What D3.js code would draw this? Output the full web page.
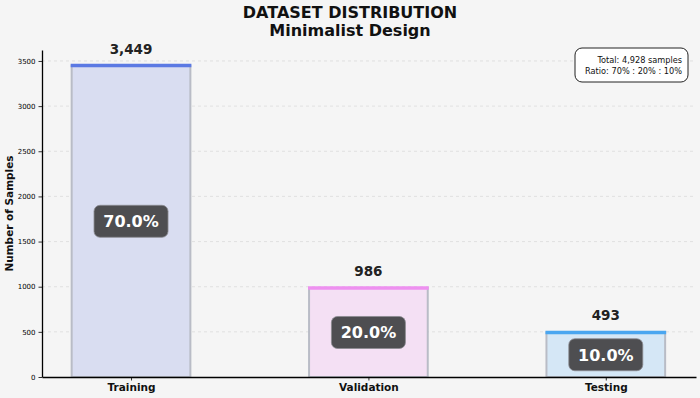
<!DOCTYPE html>
<html>
<head>
<meta charset="utf-8">
<script src="https://cdn.jsdelivr.net/npm/d3@7"></script>
<style>
  html, body { margin: 0; padding: 0; background: #f5f5f5; }
  svg { display: block; font-family: "DejaVu Sans", sans-serif; }
</style>
</head>
<body>
<div id="chart"></div>
<script>
const categories = ["Training", "Validation", "Testing"];
const counts = [3449, 986, 493];
const percents = [70.0, 20.0, 10.0];
const yTicks = [0, 500, 1000, 1500, 2000, 2500, 3000, 3500];
const fills = ["#d9ddf1", "#f4e0f4", "#d5e7f6"];
const caps = ["#5b79e3", "#ee90f0", "#4aa6f0"];

const width = 700, height = 398;
const margin = { left: 42, right: 4, top: 50, bottom: 21 };

const svg = d3.select("#chart").append("svg")
  .attr("width", width)
  .attr("height", height);

svg.append("rect").attr("width", width).attr("height", height).attr("fill", "#f5f5f5");

const x = d3.scaleLinear()
  .domain([-0.375, 2.38])
  .range([margin.left, width - margin.right]);

const y = d3.scaleLinear()
  .domain([0, d3.max(counts) * 1.05])
  .range([height - margin.bottom, margin.top]);

const barW = x(0.5) - x(0);

// grid
svg.append("g")
  .selectAll("line")
  .data(yTicks.slice(1))
  .enter()
  .append("line")
  .attr("x1", margin.left)
  .attr("x2", width - margin.right)
  .attr("y1", d => y(d))
  .attr("y2", d => y(d))
  .attr("stroke", "#dcdcdc")
  .attr("stroke-width", 0.8)
  .attr("stroke-dasharray", "3,3");

// bars
const bars = svg.append("g").selectAll("g")
  .data(categories)
  .enter()
  .append("g");

bars.append("rect")
  .attr("x", (d, i) => x(i) - barW / 2)
  .attr("y", (d, i) => y(counts[i]))
  .attr("width", barW)
  .attr("height", (d, i) => y(0) - y(counts[i]))
  .attr("fill", (d, i) => fills[i])
  .attr("stroke", "#b9bcc6")
  .attr("stroke-width", 2);

bars.append("line")
  .attr("x1", (d, i) => x(i) - barW / 2 - 1)
  .attr("x2", (d, i) => x(i) + barW / 2 + 1)
  .attr("y1", (d, i) => y(counts[i]))
  .attr("y2", (d, i) => y(counts[i]))
  .attr("stroke", (d, i) => caps[i])
  .attr("stroke-width", 3.5);

// value labels
bars.append("text")
  .attr("x", (d, i) => x(i))
  .attr("y", (d, i) => y(counts[i]) - 12)
  .attr("text-anchor", "middle")
  .style("font-size", "13.5px")
  .style("font-weight", "bold")
  .attr("fill", "#222")
  .text((d, i) => d3.format(",")(counts[i]));

// percentage badges
const badge = bars.append("g")
  .attr("transform", (d, i) => "translate(" + x(i) + "," + y(counts[i] / 2) + ")");

badge.append("rect")
  .attr("x", -37)
  .attr("y", -16)
  .attr("width", 74)
  .attr("height", 32)
  .attr("rx", 6)
  .attr("fill", "#4e4e51")
  .attr("stroke", "#8a8a90")
  .attr("stroke-width", 0.8);

badge.append("text")
  .attr("text-anchor", "middle")
  .attr("dy", "0.36em")
  .attr("fill", "#fff")
  .style("font-size", "16px")
  .style("font-weight", "bold")
  .text((d, i) => percents[i].toFixed(1) + "%");

// y axis
const yAxis = svg.append("g")
  .attr("transform", "translate(" + margin.left + ",0)")
  .call(d3.axisLeft(y).tickValues(yTicks).tickFormat(d3.format("d"))
    .tickSizeInner(3.5).tickSizeOuter(0).tickPadding(3));
yAxis.select(".domain").attr("stroke", "#000").attr("stroke-width", 1.3);
yAxis.selectAll(".tick line").attr("stroke", "#000").attr("stroke-width", 0.8);
yAxis.selectAll("text").style("font-size", "7px").attr("fill", "#000")
  .style("font-family", "DejaVu Sans");

// x axis
const xAxis = svg.append("g")
  .attr("transform", "translate(0," + y(0) + ")")
  .call(d3.axisBottom(x).tickValues([0, 1, 2]).tickSizeInner(3.5).tickSizeOuter(0).tickPadding(3)
    .tickFormat(i => categories[i]));
xAxis.select(".domain").attr("stroke", "#000").attr("stroke-width", 1.3);
xAxis.selectAll(".tick line").attr("stroke", "#000").attr("stroke-width", 0.8);
xAxis.selectAll("text").style("font-size", "10.5px").style("font-weight", "bold")
  .attr("fill", "#111").style("font-family", "DejaVu Sans");

// y label
svg.append("text")
  .attr("transform", "translate(13," + ((margin.top + y(0)) / 2) + ") rotate(-90)")
  .attr("text-anchor", "middle")
  .style("font-size", "10.5px")
  .style("font-weight", "bold")
  .attr("fill", "#111")
  .text("Number of Samples");

// title
svg.append("text")
  .attr("x", width / 2)
  .attr("y", 18)
  .attr("text-anchor", "middle")
  .style("font-size", "16px")
  .style("font-weight", "bold")
  .attr("fill", "#111")
  .text("DATASET DISTRIBUTION");
svg.append("text")
  .attr("x", width / 2)
  .attr("y", 36)
  .attr("text-anchor", "middle")
  .style("font-size", "16px")
  .style("font-weight", "bold")
  .attr("fill", "#111")
  .text("Minimalist Design");

// info box
const total = d3.sum(counts);
const info = svg.append("g");
info.append("rect")
  .attr("x", 575)
  .attr("y", 48)
  .attr("width", 113)
  .attr("height", 34)
  .attr("rx", 7)
  .attr("fill", "#fff")
  .attr("stroke", "#222")
  .attr("stroke-width", 1);
info.append("text")
  .attr("x", 682)
  .attr("y", 63)
  .attr("text-anchor", "end")
  .style("font-size", "8.2px")
  .attr("fill", "#111")
  .text("Total: " + d3.format(",")(total) + " samples");
info.append("text")
  .attr("x", 682)
  .attr("y", 74)
  .attr("text-anchor", "end")
  .style("font-size", "8.2px")
  .attr("fill", "#111")
  .text("Ratio: " + percents.map(p => p + "%").join(" : "));
</script>
</body>
</html>
